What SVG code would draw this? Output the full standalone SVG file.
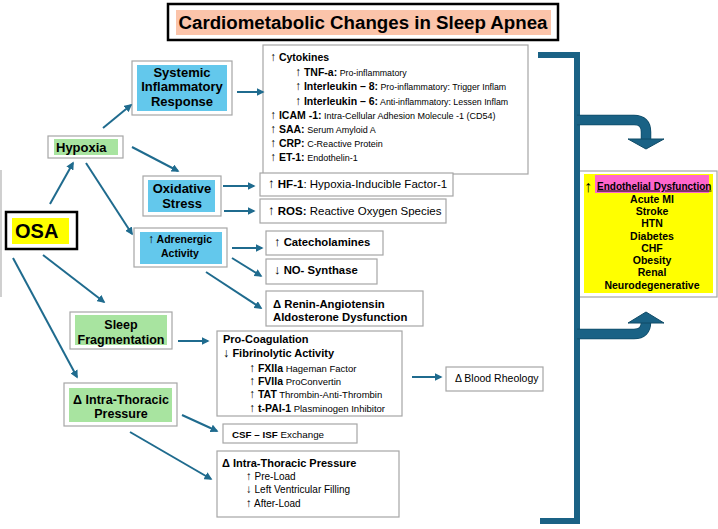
<svg xmlns="http://www.w3.org/2000/svg" width="718" height="529" viewBox="0 0 718 529">
<defs>
<style>
text{font-family:"Liberation Sans",Arial,sans-serif;fill:#000}
.b{font-weight:bold}
.ar{font-weight:normal;font-size:1.15em}
.box{fill:#fff;stroke:#a6a6a6;stroke-width:1.2}
.blue{fill:#63c8ec}
.green{fill:#a8e4a0}
.c{text-anchor:middle}
.conn line{stroke:#1f6b8e;stroke-width:2;marker-end:url(#ah)}
.big{fill:none;stroke:#1a6285;stroke-width:6}
.bighead{fill:#1a6285;stroke:#0f4a66;stroke-width:1}
</style>
<marker id="ah" viewBox="0 0 10 10" refX="8" refY="5" markerWidth="4" markerHeight="4" orient="auto" markerUnits="strokeWidth">
<path d="M0,0 L10,5 L0,10 z" fill="#1f6b8e"/>
</marker>
</defs>
<rect width="718" height="529" fill="#fff"/>
<line x1="1" y1="170" x2="1" y2="297" stroke="#b0b0b0" stroke-width="1.2"/>

<g id="title">
<rect x="168" y="4" width="390" height="36" fill="#fff" stroke="#000" stroke-width="2.5"/>
<rect x="176" y="10" width="375" height="25" fill="#fbc4aa"/>
<text x="363" y="29" class="b c" font-size="18.7">Cardiometabolic Changes in Sleep Apnea</text>
</g>

<g id="osa">
<rect x="6" y="212" width="71" height="37" fill="#fff" stroke="#000" stroke-width="2.5"/>
<rect x="12" y="218" width="57" height="26" fill="#ffff00"/>
<text x="15" y="238" class="b" font-size="20">OSA</text>
</g>

<g id="hypoxia">
<rect class="box" x="48" y="136" width="75" height="22"/>
<rect class="green" x="54" y="139" width="64" height="16"/>
<text x="56" y="151.5" class="b" font-size="13">Hypoxia</text>
</g>

<g id="systemic">
<rect class="box" x="132" y="61" width="100" height="54"/>
<rect class="blue" x="137" y="65" width="90" height="46"/>
<text x="182" y="76.5" class="b c" font-size="13">Systemic</text>
<text x="182" y="90.5" class="b c" font-size="13">Inflammatory</text>
<text x="182" y="105.5" class="b c" font-size="13">Response</text>
</g>

<g id="oxidative">
<rect class="box" x="143" y="176" width="78" height="40"/>
<rect class="blue" x="148" y="180" width="67" height="32"/>
<text x="182" y="192.5" class="b c" font-size="13">Oxidative</text>
<text x="182" y="207.5" class="b c" font-size="13">Stress</text>
</g>

<g id="adrenergic">
<rect class="box" x="134" y="228" width="93" height="39"/>
<rect class="blue" x="140" y="232" width="82" height="32"/>
<text x="180" y="243" class="b c" font-size="10.5"><tspan class="ar">↑</tspan> Adrenergic</text>
<text x="180" y="257" class="b c" font-size="10.5">Activity</text>
</g>

<g id="sleepfrag">
<rect class="box" x="70" y="312" width="102" height="37"/>
<rect class="green" x="75" y="315" width="92" height="30"/>
<text x="121" y="328.5" class="b c" font-size="12.5">Sleep</text>
<text x="121" y="343.5" class="b c" font-size="12.5">Fragmentation</text>
</g>

<g id="itp-node">
<rect class="box" x="64" y="383" width="113" height="43"/>
<rect class="green" x="69" y="388" width="103" height="34"/>
<text x="121" y="403.5" class="b c" font-size="12.5">Δ Intra-Thoracic</text>
<text x="121" y="417.5" class="b c" font-size="12.5">Pressure</text>
</g>

<g id="cytokines">
<rect class="box" x="263" y="45" width="265" height="129"/>
<text x="270" y="61" font-size="10.5"><tspan class="ar">↑</tspan><tspan class="b"> Cytokines</tspan></text>
<text x="295" y="76" font-size="10.5"><tspan class="ar">↑</tspan><tspan class="b"> TNF-a:</tspan><tspan font-size="8.8"> Pro-inflammatory</tspan></text>
<text x="295" y="90" font-size="10.5"><tspan class="ar">↑</tspan><tspan class="b"> Interleukin – 8:</tspan><tspan font-size="8.8"> Pro-inflammatory: Trigger Inflam</tspan></text>
<text x="295" y="105" font-size="10.5"><tspan class="ar">↑</tspan><tspan class="b"> Interleukin – 6:</tspan><tspan font-size="8.8"> Anti-inflammatory: Lessen Inflam</tspan></text>
<text x="270" y="119" font-size="10.5"><tspan class="ar">↑</tspan><tspan class="b"> ICAM -1:</tspan><tspan font-size="9"> Intra-Cellular Adhesion Molecule -1 (CD54)</tspan></text>
<text x="270" y="133" font-size="10.5"><tspan class="ar">↑</tspan><tspan class="b"> SAA:</tspan><tspan font-size="9"> Serum Amyloid A</tspan></text>
<text x="270" y="147" font-size="10.5"><tspan class="ar">↑</tspan><tspan class="b"> CRP:</tspan><tspan font-size="9"> C-Reactive Protein</tspan></text>
<text x="270" y="161" font-size="10.5"><tspan class="ar">↑</tspan><tspan class="b"> ET-1:</tspan><tspan font-size="9"> Endothelin-1</tspan></text>
</g>

<g id="hf1">
<rect class="box" x="260" y="173" width="193" height="23"/>
<text x="268" y="188" font-size="11.5"><tspan class="ar">↑</tspan> <tspan class="b">HF-1</tspan>: Hypoxia-Inducible Factor-1</text>
</g>

<g id="ros">
<rect class="box" x="260" y="199" width="186" height="24"/>
<text x="268" y="215" font-size="11.5"><tspan class="ar">↑</tspan> <tspan class="b">ROS:</tspan> Reactive Oxygen Species</text>
</g>

<g id="catecholamines">
<rect class="box" x="266" y="231" width="117" height="24"/>
<text x="274" y="246" class="b" font-size="11.3"><tspan class="ar">↑</tspan> Catecholamines</text>
</g>

<g id="nosynthase">
<rect class="box" x="266" y="259" width="111" height="25"/>
<text x="274" y="273.5" class="b" font-size="11.3"><tspan class="ar">↓</tspan> NO- Synthase</text>
</g>

<g id="renin">
<rect class="box" x="266" y="291" width="157" height="35"/>
<text x="273" y="308" class="b" font-size="11.3">Δ Renin-Angiotensin</text>
<text x="273" y="321" class="b" font-size="11.3">Aldosterone Dysfunction</text>
</g>

<g id="procoag">
<rect class="box" x="217" y="331" width="185" height="85"/>
<text x="223" y="343" class="b" font-size="11">Pro-Coagulation</text>
<text x="223" y="357" class="b" font-size="11"><tspan class="ar">↓</tspan> Fibrinolytic Activity</text>
<text x="249" y="372" font-size="10.5"><tspan class="ar">↑</tspan><tspan class="b"> FXIIa</tspan><tspan font-size="9.5"> Hageman Factor</tspan></text>
<text x="249" y="385" font-size="10.5"><tspan class="ar">↑</tspan><tspan class="b"> FVIIa</tspan><tspan font-size="9.5"> ProConvertin</tspan></text>
<text x="249" y="398" font-size="10.5"><tspan class="ar">↑</tspan><tspan class="b"> TAT</tspan><tspan font-size="9.5"> Thrombin-Anti-Thrombin</tspan></text>
<text x="249" y="412" font-size="10.5"><tspan class="ar">↑</tspan><tspan class="b"> t-PAI-1</tspan><tspan font-size="9.5"> Plasminogen Inhibitor</tspan></text>
</g>

<g id="rheology">
<rect class="box" x="446" y="367" width="97" height="24"/>
<text x="455" y="381.5" font-size="10.5">Δ Blood Rheology</text>
</g>

<g id="csf">
<rect class="box" x="223" y="424" width="134" height="19"/>
<text x="232" y="437.5" font-size="9.8"><tspan class="b">CSF – ISF</tspan> Exchange</text>
</g>

<g id="itp-box">
<rect class="box" x="217" y="451" width="182" height="66"/>
<text x="222" y="467" class="b" font-size="11">Δ Intra-Thoracic Pressure</text>
<text x="246" y="479.5" font-size="10"><tspan class="ar">↑</tspan> Pre-Load</text>
<text x="246" y="493" font-size="10"><tspan class="ar">↓</tspan> Left Ventricular Filling</text>
<text x="246" y="507" font-size="10"><tspan class="ar">↑</tspan> After-Load</text>
</g>

<g id="endothelial">
<rect class="box" x="579" y="171" width="138" height="126"/>
<rect x="584" y="174" width="129" height="119" fill="#ffff00"/>
<rect x="595" y="175" width="114" height="18" fill="#ff66cc"/>
<text x="584" y="192" font-size="16">↑</text>
<text x="597" y="189.5" class="b" font-size="10" text-decoration="underline">Endothelial Dysfunction</text>
<text x="652" y="202.5" class="b c" font-size="10.5">Acute MI</text>
<text x="652" y="214.5" class="b c" font-size="10.5">Stroke</text>
<text x="652" y="226.5" class="b c" font-size="10.5">HTN</text>
<text x="652" y="239.5" class="b c" font-size="10.5">Diabetes</text>
<text x="652" y="251.5" class="b c" font-size="10.5">CHF</text>
<text x="652" y="263.5" class="b c" font-size="10.5">Obesity</text>
<text x="652" y="275.5" class="b c" font-size="10.5">Renal</text>
<text x="652" y="288.5" class="b c" font-size="10.5">Neurodegenerative</text>
</g>

<g id="connectors" class="conn">
<line x1="103" y1="128" x2="131" y2="105"/>
<line x1="132" y1="147" x2="178" y2="171"/>
<line x1="237" y1="92" x2="263" y2="92"/>
<line x1="50" y1="204" x2="73" y2="163"/>
<line x1="86" y1="163" x2="132" y2="234"/>
<line x1="223" y1="186" x2="254" y2="186"/>
<line x1="224" y1="211" x2="254" y2="211"/>
<line x1="232" y1="248" x2="262" y2="248"/>
<line x1="232" y1="258" x2="261" y2="276"/>
<line x1="206" y1="272" x2="261" y2="308"/>
<line x1="43" y1="255" x2="104" y2="302"/>
<line x1="13" y1="258" x2="77" y2="377"/>
<line x1="178" y1="341" x2="208" y2="341"/>
<line x1="182" y1="415" x2="217" y2="431"/>
<line x1="130" y1="432" x2="211" y2="479"/>
<line x1="412" y1="377" x2="441" y2="377"/>
<g id="bracket">
<path class="big" d="M538,55 H577 V521 H540" stroke="#0f4a66" stroke-width="7.5"/>
<path class="big" d="M538,55 H577 V521 H540"/>
<path d="M577,120 H634 Q646,120 646,132 V140" fill="none" stroke="#0f4a66" stroke-width="10.5"/>
<path d="M577,120 H634 Q646,120 646,132 V140" fill="none" stroke="#1a6285" stroke-width="9"/>
<polygon class="bighead" points="628,139 664,139 646,149"/>
<path d="M577,334 H634 Q646,334 646,322 V323" fill="none" stroke="#0f4a66" stroke-width="10.5"/>
<path d="M577,334 H634 Q646,334 646,322 V323" fill="none" stroke="#1a6285" stroke-width="9"/>
<polygon class="bighead" points="628,323 664,323 646,312"/>
</g>
</g>
</svg>
